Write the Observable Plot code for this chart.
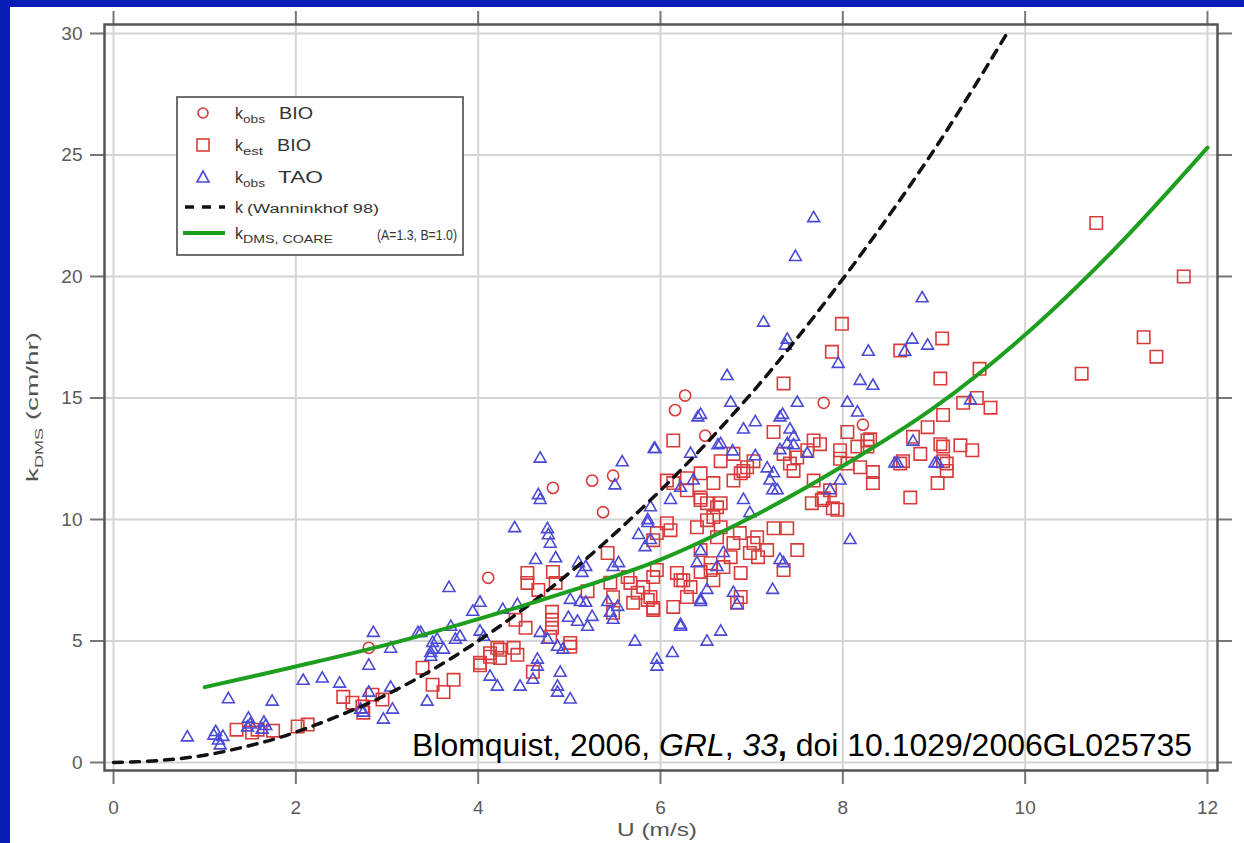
<!DOCTYPE html>
<html><head><meta charset="utf-8">
<script src="https://cdn.jsdelivr.net/npm/d3@7"></script>
<script src="https://cdn.jsdelivr.net/npm/@observablehq/plot@0.6"></script>
<style>
html,body{margin:0;padding:0}
body{background:#0b1db8;width:1244px;height:843px;overflow:hidden;font-family:"Liberation Sans",Arial,sans-serif}
#panel{position:absolute;left:10px;top:7px;width:1234px;height:836px;background:#fff}
#chart,#over{position:absolute;left:0;top:0}
#over{pointer-events:none}
</style></head><body>
<div id="panel"><div id="chart"></div>
<svg id="over" width="1234" height="836" font-family="Liberation Sans, Arial, sans-serif">
  <g transform="translate(167,90)">
    <rect x="0" y="0" width="286" height="158" fill="#fff" stroke="#4a4a4a" stroke-width="1.6"/>
    <circle cx="26" cy="16" r="5" fill="none" stroke="#d93b3b" stroke-width="1.6"/>
    <rect x="20" y="42" width="12" height="12" fill="none" stroke="#d93b3b" stroke-width="1.6"/>
    <path d="M26,74 L32,85 L20,85 Z" fill="none" stroke="#4a4ad6" stroke-width="1.6"/>
    <line x1="8" y1="110" x2="48" y2="110" stroke="#111" stroke-width="3.5" stroke-dasharray="9,8"/>
    <line x1="6" y1="136" x2="48" y2="136" stroke="#1e9e1e" stroke-width="4"/>
    <g fill="#333" font-size="16">
      <text x="58" y="22">k</text>
      <text x="66" y="26" font-size="10" textLength="22" lengthAdjust="spacingAndGlyphs">obs</text>
      <text x="102" y="22" textLength="34" lengthAdjust="spacingAndGlyphs">BIO</text>
      <text x="58" y="54">k</text>
      <text x="66" y="58" font-size="10" textLength="20" lengthAdjust="spacingAndGlyphs">est</text>
      <text x="100" y="54" textLength="34" lengthAdjust="spacingAndGlyphs">BIO</text>
      <text x="58" y="86">k</text>
      <text x="66" y="90" font-size="10" textLength="22" lengthAdjust="spacingAndGlyphs">obs</text>
      <text x="101" y="86" textLength="45" lengthAdjust="spacingAndGlyphs">TAO</text>
      <text x="58" y="116">k</text>
      <text x="70" y="116" font-size="12" textLength="132" lengthAdjust="spacingAndGlyphs">(Wanninkhof 98)</text>
      <text x="58" y="142">k</text>
      <text x="66" y="146" font-size="10" textLength="90" lengthAdjust="spacingAndGlyphs">DMS, COARE</text>
      <text x="200" y="143" font-size="14" textLength="80" lengthAdjust="spacingAndGlyphs">(A=1.3, B=1.0)</text>
    </g>
  </g>
  <text x="402" y="749" font-size="32" fill="#000" textLength="780" lengthAdjust="spacingAndGlyphs">Blomquist, 2006, <tspan font-style="italic">GRL</tspan>, <tspan font-style="italic">33</tspan><tspan font-weight="bold">,</tspan> doi 10.1029/2006GL025735</text>
  <text transform="translate(28,400) rotate(-90)" text-anchor="middle" font-size="17" fill="#555" textLength="150" lengthAdjust="spacingAndGlyphs">k<tspan font-size="11" dy="5">DMS</tspan><tspan dy="-5"> (cm/hr)</tspan></text>
  <text x="647" y="829" text-anchor="middle" font-size="18" fill="#555" textLength="80" lengthAdjust="spacingAndGlyphs">U (m/s)</text>
</svg>
</div>
<script>
// Tick values
const xTicks = [0, 2, 4, 6, 8, 10, 12];
const yTicks = [0, 5, 10, 15, 20, 25, 30];

// k (Wanninkhof 98) dashed curve
const wannU = [0, 0.5, 1, 1.5, 2, 3, 4, 5, 6, 7, 8, 9, 9.8];
const wannK = [0, 0.08, 0.3, 0.7, 1.25, 2.8, 5.0, 7.8, 11.2, 15.2, 19.9, 25.2, 30.0];

// k_DMS, COARE green curve
const coareU = [1, 2, 3, 4, 5, 6, 7, 8, 9, 10, 11, 12];
const coareK = [3.1, 3.95, 4.85, 5.9, 7.05, 8.35, 10.1, 12.2, 14.6, 17.6, 21.2, 25.3];

// k_obs BIO (red circles)
const obsBioU = [2.8, 4.11, 4.82, 5.25, 5.48, 5.37, 6.27, 6.16, 6.49, 7.79, 8.22];
const obsBioK = [4.72, 7.6, 11.3, 11.6, 11.8, 10.3, 15.1, 14.5, 13.45, 14.8, 13.9];

// k_est BIO (red squares)
const estBioU = [1.35,1.52,1.58,1.75,2.02,2.13,2.52,2.62,2.73,2.74,2.84,2.95,3.39,3.5,3.62,3.73,
4.02,4.13,4.21,4.39,4.43,4.6,4.24,4.13,4.02,4.24,
4.54,4.54,4.66,4.82,4.85,5.42,4.81,4.81,4.41,4.52,4.81,4.79,5.01,5.01,
5.67,5.75,5.7,5.92,5.96,5.92,5.96,6.22,6.29,6.14,5.92,5.86,5.64,5.48,5.45,5.48,5.2,
6.07,6.11,6.4,6.62,6.8,6.44,6.55,6.87,7.02,7.07,6.66,6.58,6.8,6.91,7.42,7.46,
6.07,6.14,6.29,6.44,6.58,6.29,6.44,6.51,7.66,7.79,7.89,7.39,7.5,7.35,7.24,
6.84,6.88,6.33,6.25,6.18,7.06,7.17,6.98,6.69,6.77,6.88,6.55,6.44,6.58,5.92,5.81,5.89,
6.62,6.51,6.66,6.44,6.88,6.95,6.66,6.8,7.02,7.5,7.86,7.68,7.94,7.77,
7.97,8.05,8.19,8.33,8.33,9.14,9.04,8.74,8.66,8.63,9.1,9.14,8.85,9.07,
7.68,7.75,8.27,8.27,9.1,9.29,9.42,8.05,7.24,6.14,9.1,8.93,8.77,8.3,
7.35,7.61,7.97,8.16,
7.35,9.07,9.5,9.32,9.47,9.62,9.09,7.99,7.88,8.63,
10.78,11.74,11.3,11.44,10.62];
const estBioK = [1.35,1.23,1.35,1.31,1.48,1.56,2.7,2.46,2.3,2.05,2.79,2.59,3.9,3.2,2.9,3.4,
4.0,4.35,4.72,4.72,4.43,3.73,4.64,4.5,4.1,4.3,
7.8,7.39,7.1,7.84,7.39,8.62,6.2,5.87,5.87,5.54,5.54,5.17,4.92,4.76,
7.39,6.98,6.57,6.36,9.44,9.15,7.92,7.5,6.81,6.4,6.28,6.69,7.63,6.16,7.4,6.8,7.05,
9.85,9.56,9.68,9.27,9.03,8.74,8.2,9.44,9.03,8.45,10.67,10.1,11.6,12.0,12.3,12.0,
11.6,11.5,11.7,11.9,11.5,11.2,10.9,10.67,10.67,10.87,10.46,9.64,8.74,7.92,9.64,
6.57,6.81,7.22,7.5,7.8,9.27,8.74,8.62,8.04,8.45,7.8,7.92,7.84,7.5,7.63,7.22,6.81,
10.5,9.97,9.68,10.8,11.9,12.15,12.4,12.7,12.4,12.55,11.2,11.6,10.4,10.8,
12.5,12.3,12.15,11.95,11.5,12.3,11.5,10.9,12.4,12.3,12.4,12.0,12.7,13.1,
13.25,13.1,13.25,13.0,13.0,13.05,12.85,13.6,13.6,13.25,14.3,13.8,13.4,13.3,
12.7,12.85,12.85,13.0,
15.6,15.8,16.2,14.8,15.0,14.6,17.45,18.05,16.9,16.95,
22.2,20.0,17.5,16.7,16.0];

// k_obs TAO (blue triangles)
const obsTaoU = [0.81,1.26,1.74,1.1,1.15,1.17,1.12,1.48,1.5,1.47,1.65,1.67,1.63,1.2,
2.08,2.29,2.48,2.8,2.85,3.04,2.8,3.04,2.71,2.74,2.96,3.06,3.34,3.44,3.5,3.48,
4.68,4.66,4.68,5.58,5.5,5.93,4.4,4.76,4.77,4.79,4.63,4.85,3.68,
5.1,5.18,5.14,5.48,5.54,5.76,5.83,5.86,
4.02,3.94,4.27,4.43,3.7,3.37,3.5,3.62,3.48,3.75,3.8,4.02,4.06,
5.01,5.12,5.18,4.99,5.09,5.25,5.2,5.42,5.53,5.45,5.48,5.72,
4.68,4.76,4.87,4.93,4.65,5.96,
4.13,4.21,4.46,4.6,4.65,4.87,5.01,4.9,4.87,3.55,
7.48,7.13,8.87,7.39,7.37,7.95,8.28,8.76,8.93,8.68,8.19,8.33,6.73,6.77,8.05,8.16,7.5,7.34,7.04,6.91,6.44,6.66,9.4,5.94,6.33,6.79,8.77,8.57,9.01,7.68,
8.08,7.23,6.22,6.66,6.44,6.8,6.84,6.51,6.13,5.96,
7.17,7.28,7.2,7.24,7.23,
6.44,6.62,5.86,6.22,6.44,6.51,7.31,7.35,5.89,6.11,5.89,7.04,7.31,7.46,7.61,6.36,6.22,8.6,9.04,7.86,7.97,6.69,6.98,6.91,6.4,7.42,7.46,7.39,7.31,6.63,6.41];
const obsTaoK = [1.03,2.6,2.5,1.1,0.9,0.7,1.25,1.8,1.56,1.44,1.64,1.5,1.35,1.05,
3.36,3.45,3.24,3.98,5.33,4.68,2.87,3.08,2.17,2.05,1.76,2.17,5.33,2.5,4.64,4.35,
12.5,11.0,10.8,12.35,11.4,12.9,9.64,9.6,9.35,9.0,8.33,8.4,7.18,
8.2,8.04,7.8,8.04,8.2,9.36,8.86,9.97,
6.57,6.2,6.28,6.48,5.58,5.33,4.92,4.64,4.5,5.05,5.17,5.38,5.17,
6.69,6.6,6.57,5.95,5.79,5.99,5.58,6.6,6.4,6.16,5.87,4.97,
5.33,5.05,4.76,4.64,4.23,4.23,
3.53,3.12,3.12,3.4,3.94,2.87,2.59,3.69,3.12,5.05,
20.8,18.1,19.1,17.4,17.15,16.4,16.9,17.4,17.15,16.9,15.7,15.5,15.9,14.8,14.8,14.4,14.8,14.3,14.0,13.7,14.3,13.1,14.9,12.9,12.7,12.8,13.2,12.3,12.3,22.4,
9.15,7.1,5.58,5.38,6.69,6.98,6.48,4.97,4.5,3.94,
12.1,11.2,11.6,11.9,11.2,
8.7,8.04,9.85,5.66,6.6,7.1,8.33,8.2,9.15,10.8,10.5,12.6,12.85,13.05,12.7,11.6,11.3,12.3,12.3,11.2,11.6,8.62,10.26,10.8,8.2,13.7,13.4,13.1,14.2,13.05,14.2];

const zip = (u, k) => u.map((v, i) => ({u: v, k: k[i]}));
const wann = zip(wannU, wannK);
const coare = zip(coareU, coareK);
const obsBio = zip(obsBioU, obsBioK);
const estBio = zip(estBioU, estBioK);
const obsTao = zip(obsTaoU, obsTaoK);

const axisStyle = {stroke: "#777", strokeWidth: 2, fill: "#5a5a5a", fontSize: 19, tickSize: 14, label: null};

const chart = Plot.plot({
  width: 1234, height: 836,
  marginLeft: 94, marginRight: 27, marginTop: 17, marginBottom: 73,
  style: {background: "transparent", fontFamily: "Liberation Sans, Arial, sans-serif", fontSize: "19px"},
  x: {domain: [-0.099, 12.11]},
  y: {domain: [-0.33, 30.37]},
  marks: [
    Plot.gridX(xTicks, {stroke: "#d4d4d4", strokeOpacity: 1, strokeWidth: 2}),
    Plot.gridY(yTicks, {stroke: "#d4d4d4", strokeOpacity: 1, strokeWidth: 2}),
    Plot.axisX({...axisStyle, ticks: xTicks, tickPadding: 16}),
    Plot.axisX({...axisStyle, anchor: "top", ticks: xTicks, tickFormat: () => ""}),
    Plot.axisY({...axisStyle, ticks: yTicks, tickPadding: 8}),
    Plot.axisY({...axisStyle, anchor: "right", ticks: yTicks, tickFormat: () => ""}),
    Plot.dot(estBio, {x: "u", y: "k", symbol: "square", r: 7, stroke: "#d93b3b", strokeWidth: 1.6, fill: "none"}),
    Plot.dot(obsBio, {x: "u", y: "k", symbol: "circle", r: 5.6, stroke: "#d93b3b", strokeWidth: 1.6, fill: "none"}),
    Plot.dot(obsTao, {x: "u", y: "k", symbol: "triangle", r: 4.4, stroke: "#4a4ad6", strokeWidth: 1.6, fill: "none"}),
    Plot.line(wann, {x: "u", y: "k", stroke: "#111", strokeWidth: 3.5, strokeDasharray: "9,8", curve: "catmull-rom", clip: true}),
    Plot.line(coare, {x: "u", y: "k", stroke: "#1e9e1e", strokeWidth: 4, curve: "catmull-rom"}),
    Plot.frame({stroke: "#555", strokeWidth: 2.5})
  ]
});
document.getElementById("chart").appendChild(chart);
</script>
</body></html>
